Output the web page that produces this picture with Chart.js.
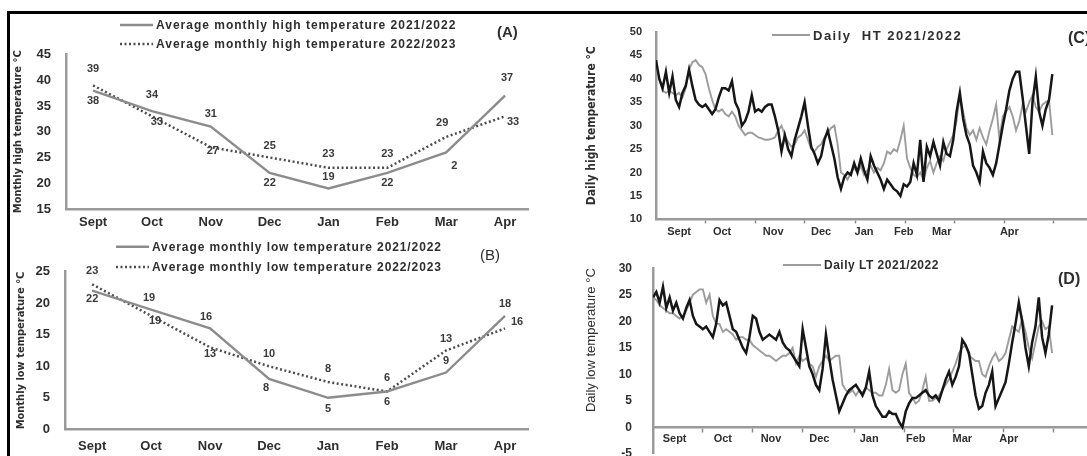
<!DOCTYPE html>
<html>
<head>
<meta charset="utf-8">
<script src="https://cdn.jsdelivr.net/npm/chart.js@4.4.1/dist/chart.umd.min.js"></script>
<style>
  body { margin: 0; background: #fff; }
  #wrap { position: relative; width: 1087px; height: 456px; overflow: hidden; background: #fff; }
  #wrap canvas { position: absolute; }
  .rule { position: absolute; background: #000; }
</style>
</head>
<body>
<div id="wrap">
  <canvas id="chartA" width="560" height="236" style="left:0;top:0"></canvas>
  <canvas id="chartB" width="560" height="220" style="left:0;top:236px"></canvas>
  <canvas id="chartC" width="527" height="240" style="left:560px;top:0"></canvas>
  <canvas id="chartD" width="527" height="242" style="left:560px;top:240px"></canvas>
  <div class="rule" style="left:7px;top:11px;width:1080px;height:3px"></div>
  <div class="rule" style="left:7px;top:11px;width:3px;height:445px"></div>
</div>
<script>
// months on the x axis
const months = ["Sept", "Oct", "Nov", "Dec", "Jan", "Feb", "Mar", "Apr"];

// (A) average monthly high temperature
const highMonthly2122 = [38, 34, 31, 22, 19, 22, 26, 37];
const highMonthly2223 = [39, 33, 27, 25, 23, 23, 29, 33];
const highLabels2122 = ["38", "34", "31", "22", "19", "22", "2", "37"];
const highLabels2223 = ["39", "33", "27", "25", "23", "23", "29", "33"];

// (B) average monthly low temperature
const lowMonthly2122 = [22, 19, 16, 8, 5, 6, 9, 18];
const lowMonthly2223 = [23, 18, 13, 10, 7.5, 6, 12.5, 16];
const lowLabels2122 = ["22", "19", "16", "8", "5", "6", "9", "18"];
const lowLabels2223 = ["23", "19", "13", "10", "8", "6", "13", "16"];

// (C) daily high temperature, one value every 2 days from 1 Sept
const dailyHigh2122 = [
  43, 40, 37.5, 37, 37.5, 37, 36.5, 37, 36, 38,
  42, 43.5, 44, 43, 42.5, 41, 38, 35.5, 33.5, 33,
  33.5, 32.5, 32, 33, 32, 30, 29, 28, 28.5, 28.5,
  28, 27.5, 27.3, 27, 27, 27.2, 27.5, 29, 30, 28,
  26.5, 25.5, 26, 27.5, 28, 29, 27, 25, 24.5, 25.5,
  26, 27.5, 28.5, 29.5, 30, 26, 20, 19.5, 18.5, 20,
  21, 20, 21.5, 19.5, 20.5, 21.5, 20, 21, 20.5, 22,
  24.5, 24, 25, 24.5, 27, 30, 23, 21, 19.5, 19,
  20, 18.5, 21, 22.5, 20, 22, 23.5, 22.5, 25, 26.5,
  28, 31, 36.5, 33, 29.5, 28, 29, 27, 29.5, 27.5,
  26, 29, 31.5, 34.5, 27, 32, 33, 34, 32, 29,
  31, 34.5, 33, 35, 36.5, 34, 33, 34.5, 35, 35.5, 28
];
const dailyHigh2223 = [
  44, 40, 38, 41.5, 37, 40.5, 35.5, 34, 37, 38.5,
  42, 38.5, 35.5, 34.5, 34, 34.5, 33.5, 32.5, 33.5, 36,
  38, 38, 37.5, 39.5, 35, 33.5, 30, 31, 33, 36.5,
  33, 33.5, 33, 34, 34.5, 34.5, 32, 29, 24.5, 28,
  25, 23.5, 27, 29.5, 32, 35, 30, 25.5, 24, 22,
  23.5, 27, 29, 26, 23, 19, 16.5, 19, 20, 19.5,
  22, 20, 23, 20.5, 18.5, 23.5, 21.5, 20, 18.5, 16.5,
  18.5, 17.5, 16.5, 16, 15, 17.5, 17, 18, 22, 19.5,
  27, 18, 25.5, 23.5, 26.5, 24, 21.5, 26.5, 24, 23.5,
  27, 33, 37, 31.5, 28, 26, 21.5, 20, 18, 24.5,
  22, 21, 19.5, 22, 26, 30, 33.5, 37.5, 40, 41.5,
  41.5, 36, 30, 24, 35, 40.5, 33, 30, 33.5, 35.5, 41
];

// (D) daily low temperature, one value every 2 days from 1 Sept
const dailyLow2122 = [
  24.5, 24, 23, 22.5, 22, 21.5, 21.5, 21, 20.5, 21,
  22, 23.5, 25, 25.5, 26, 26, 23.5, 25, 21, 19.5,
  19.5, 18, 18.5, 18, 17.5, 16.5, 17, 17, 16.5, 16.5,
  15.5, 15, 14.5, 14, 13.5, 13.5, 13, 12.5, 13, 13.5,
  13.5, 14, 15, 12, 13.5, 12.5, 13, 12, 11.5, 9.5,
  11.5, 12.5, 13.5, 12.5, 13, 13.5, 13.5, 8, 7, 6.5,
  7, 6, 7, 6.5, 7.5, 7, 6.5, 6.5, 6, 6,
  8, 11, 7, 6.5, 7, 10, 12, 6.5, 5.5, 4.5,
  5, 7, 9.5, 5, 5, 5.5, 6, 7, 8, 9,
  10.5, 12, 14, 15, 15.5, 13.5, 13, 12.5, 12.5, 10,
  9.5, 11.5, 13, 14, 12.5, 13, 14, 16.5, 19, 18.5,
  18, 20.5, 18, 15, 13, 16, 19, 20, 18.5, 19, 14
];
const dailyLow2223 = [
  24.5, 25.5, 23.5, 26.5, 22.5, 24.5, 22, 23.5, 21.5, 20.5,
  22.5, 24, 21, 19.5, 19, 18.5, 19, 18, 17, 19.5,
  24, 23, 23.5, 21, 18.5, 18, 16.5, 15, 14, 17,
  21, 20.5, 18, 16.5, 17, 17.5, 17, 16.5, 18, 16,
  15, 14.5, 13.5, 12.5, 11.5, 18.5, 15, 11.5, 10, 8,
  7, 11, 17.5, 13, 9, 6, 3, 4.5, 6, 7,
  7.5, 8, 7, 6, 7.5, 10.5, 6, 4, 3, 2,
  2, 3, 2.5, 2.5, 1, 0, 3, 4.5, 5.5, 5.5,
  6, 6.5, 7, 6, 5.5, 6, 5, 7, 9, 10.5,
  8, 9.5, 11.5, 16.5, 15.5, 14, 10, 6, 3.5, 4,
  6.5, 8, 10.5, 4, 5.5, 7, 8.5, 12, 16, 19.5,
  23.5, 20, 15, 11.5, 16, 19, 24.5, 17, 14, 17.5, 23
];

// day of season where month boundaries and month names sit on the daily axes
const monthEdges = [30, 60, 90, 121, 151, 181, 211, 241];
const labelDaysC = [14, 40, 71, 100, 126, 150, 173, 214];
const labelDaysD = [13, 42, 71, 100, 130, 158, 186, 214];

const SANS = "'Liberation Sans', Arial, sans-serif";
const NARROW = "'Liberation Sans Narrow', 'DejaVu Sans Condensed', 'Liberation Sans', sans-serif";
const TXT = "#2e2e2e";
const AXIS = "#9a9a9a";

// draws the line legends, panel tags and point value labels
const decor = {
  id: "decor",
  afterDatasetsDraw(chart, args, o) {
    const ctx = chart.ctx;
    ctx.save();
    ctx.textBaseline = "middle";
    (o.pointLabels || []).forEach(pl => {
      const pts = chart.getDatasetMeta(pl.ds).data;
      ctx.font = "bold 11px " + SANS;
      ctx.fillStyle = "#3a3a3a";
      ctx.textAlign = "center";
      pl.text.forEach((t, i) => ctx.fillText(t, pts[i].x + pl.dx[i], pts[i].y + pl.dy[i]));
    });
    (o.legend || []).forEach(it => {
      const ds = chart.data.datasets[it.ds];
      ctx.strokeStyle = ds.borderColor;
      ctx.lineWidth = ds.borderWidth;
      ctx.setLineDash(ds.borderDash || []);
      ctx.beginPath();
      ctx.moveTo(it.x, it.y);
      ctx.lineTo(it.x + it.w, it.y);
      ctx.stroke();
      ctx.setLineDash([]);
      ctx.font = it.font;
      ctx.letterSpacing = it.spacing || "0px";
      ctx.fillStyle = TXT;
      ctx.textAlign = "left";
      ctx.fillText(ds.label, it.x + it.w + 3, it.y + 1);
      ctx.letterSpacing = "0px";
    });
    if (o.tag) {
      ctx.font = o.tag.font;
      ctx.fillStyle = TXT;
      ctx.textAlign = "left";
      ctx.fillText(o.tag.text, o.tag.x, o.tag.y);
    }
    ctx.restore();
  }
};

function monthlyChart(id, cfg) {
  const pts = arr => arr.map((v, i) => ({ x: i, y: v }));
  const legFont = "bold 12px " + SANS;
  return new Chart(document.getElementById(id), {
    type: "line",
    data: {
      datasets: [
        { label: cfg.labels[0], data: pts(cfg.series[0]), borderColor: "#8c8c8c", borderWidth: 2.4 },
        { label: cfg.labels[1], data: pts(cfg.series[1]), borderColor: "#4d4d4d", borderWidth: 2.5, borderDash: [2, 2.5] }
      ]
    },
    options: {
      responsive: false,
      animation: false,
      devicePixelRatio: 1,
      elements: { point: { radius: 0 }, line: { tension: 0 } },
      layout: { padding: { top: cfg.top, right: cfg.right, bottom: 0, left: 0 } },
      scales: {
        x: {
          type: "linear", min: -0.46, max: 7.39,
          afterBuildTicks: s => { s.ticks = months.map((m, i) => ({ value: i })); },
          afterFit: s => { s.height = cfg.xh; },
          grid: { display: false, drawTicks: false },
          border: { color: AXIS, width: 2.5 },
          ticks: { callback: v => months[v], autoSkip: false, maxRotation: 0, padding: cfg.xpad,
                   color: TXT, font: { family: SANS, size: 13, weight: "bold" } }
        },
        y: {
          min: cfg.min, max: cfg.max,
          afterFit: s => { s.width = cfg.yw; },
          grid: { display: false, drawTicks: false },
          border: { color: AXIS, width: 2.5 },
          ticks: { stepSize: 5, padding: 15, color: TXT, font: { family: SANS, size: 13, weight: "bold" } },
          title: { display: true, text: cfg.ytitle, color: TXT, padding: { top: cfg.tpad, bottom: 0 },
                   font: { family: NARROW, size: 11, weight: "bold" } }
        }
      },
      plugins: {
        legend: { display: false },
        tooltip: { enabled: false },
        decor: {
          legend: [
            { ds: 0, x: cfg.legX, y: cfg.legY[0], w: 33, font: legFont, spacing: cfg.legSpacing },
            { ds: 1, x: cfg.legX, y: cfg.legY[1], w: 33, font: legFont, spacing: cfg.legSpacing }
          ],
          tag: cfg.tag,
          pointLabels: cfg.pointLabels
        }
      }
    },
    plugins: [decor]
  });
}

function dailyChart(id, cfg) {
  const pts = arr => arr.map((v, i) => ({ x: i * 2, y: v }));
  const ticks = monthEdges.concat(cfg.labelDays).sort((a, b) => a - b);
  return new Chart(document.getElementById(id), {
    type: "line",
    data: {
      datasets: [
        { label: cfg.labels[1], data: pts(cfg.series[1]), borderColor: "#161616", borderWidth: 2.5 },
        { label: cfg.labels[0], data: pts(cfg.series[0]), borderColor: "#9c9c9c", borderWidth: 1.9 }
      ]
    },
    options: {
      responsive: false,
      animation: false,
      devicePixelRatio: 1,
      elements: { point: { radius: 0 }, line: { tension: 0 } },
      layout: { padding: { top: cfg.top, right: 0, bottom: cfg.bottom, left: 0 } },
      scales: {
        x: {
          type: "linear", min: 0, max: 261,
          position: cfg.xpos,
          afterBuildTicks: s => { s.ticks = ticks.map(v => ({ value: v })); },
          afterFit: s => { s.height = cfg.xh; },
          grid: { display: true, drawOnChartArea: false, drawTicks: true, tickLength: 4, tickWidth: 1.5,
                  tickColor: c => cfg.labelDays.includes(c.tick.value) ? "rgba(0,0,0,0)" : "#8a8a8a" },
          border: { color: AXIS, width: 2.5 },
          ticks: { callback: v => { const k = cfg.labelDays.indexOf(v); return k >= 0 ? months[k] : ""; },
                   autoSkip: false, maxRotation: 0, padding: 1.5,
                   color: TXT, font: { family: SANS, size: 11, weight: "bold" } }
        },
        y: {
          min: cfg.min, max: cfg.max,
          afterFit: s => { s.width = cfg.yw; },
          grid: { display: false, drawTicks: false },
          border: { color: AXIS, width: 2.5 },
          ticks: { stepSize: 5, padding: cfg.ypad, color: TXT, font: { family: SANS, size: cfg.yfont, weight: "bold" } },
          title: { display: true, text: cfg.ytitle, color: TXT, align: cfg.talign, padding: { top: cfg.tpad, bottom: 0 },
                   font: cfg.tfont }
        }
      },
      plugins: {
        legend: { display: false },
        tooltip: { enabled: false },
        decor: {
          legend: [{ ds: 1, x: cfg.legX, y: cfg.legY, w: 38, font: cfg.legFont, spacing: cfg.legSpacing }],
          tag: cfg.tag
        }
      }
    },
    plugins: [decor]
  });
}

monthlyChart("chartA", {
  series: [highMonthly2122, highMonthly2223],
  labels: ["Average monthly high temperature 2021/2022", "Average monthly high temperature 2022/2023"],
  min: 15, max: 45, top: 54.5, right: 32, xh: 27, xpad: 6, yw: 66, tpad: 11.5,
  ytitle: "Monthly high temperature °C",
  legX: 120, legY: [25, 44], legSpacing: "1px",
  tag: { text: "(A)", x: 497, y: 33, font: "bold 15px " + SANS },
  pointLabels: [
    { ds: 0, text: highLabels2122, dx: [0, 0, 0, 0, 0, 0, 8, 2], dy: [10, -16, -13, 10, -11, 10, 14, -18] },
    { ds: 1, text: highLabels2223, dx: [0, 5, 2, 0, 0, 0, -4, 8], dy: [-16, 6, 4, -12, -14, -14, -14, 6] }
  ]
});

monthlyChart("chartB", {
  series: [lowMonthly2122, lowMonthly2223],
  labels: ["Average monthly low temperature 2021/2022", "Average monthly low temperature 2022/2023"],
  min: 0, max: 25, top: 35.7, right: 32, xh: 26.7, xpad: 9.5, yw: 65, tpad: 15,
  ytitle: "Monthly low temperature °C",
  legX: 116, legY: [10.7, 31], legSpacing: "0.9px",
  tag: { text: "(B)", x: 480, y: 20, font: "15px " + SANS },
  pointLabels: [
    { ds: 0, text: lowLabels2122, dx: [0, -2, -4, -3, 0, 0, 0, 0], dy: [8, -12, -11, 9, 11, 10, -12, -12] },
    { ds: 1, text: lowLabels2223, dx: [0, 4, 0, 0, 0, 0, 0, 12], dy: [-13, 5, 7, -12, -13, -14, -12, -6] }
  ]
});

dailyChart("chartC", {
  series: [dailyHigh2122, dailyHigh2223],
  labels: ["Daily  HT 2021/2022", "Daily HT 2022/2023"],
  labelDays: labelDaysC,
  min: 10, max: 50, top: 32, bottom: 0, xh: 20, yw: 96, ypad: 14, yfont: 11,
  ytitle: "Daily high temperature °C", talign: "center", tpad: 25,
  tfont: { family: NARROW, size: 12, weight: "bold" },
  legX: 212, legY: 35, legFont: "bold 13px " + SANS, legSpacing: "1.5px",
  tag: { text: "(C)", x: 508, y: 39, font: "bold 16px " + SANS }
});

dailyChart("chartD", {
  series: [dailyLow2122, dailyLow2223],
  labels: ["Daily LT 2021/2022", "Daily LT 2022/2023"],
  labelDays: labelDaysD,
  xpos: { y: 0 },
  min: -5, max: 30, top: 27.7, bottom: 0, xh: 0, yw: 93, ypad: 21, yfont: 12,
  ytitle: "Daily low temperature °C", talign: "end", tpad: 24,
  tfont: { family: SANS, size: 13, weight: "normal" },
  legX: 223, legY: 25, legFont: "bold 12px " + SANS, legSpacing: "0.5px",
  tag: { text: "(D)", x: 498, y: 40, font: "bold 16px " + SANS }
});
</script>
</body>
</html>
